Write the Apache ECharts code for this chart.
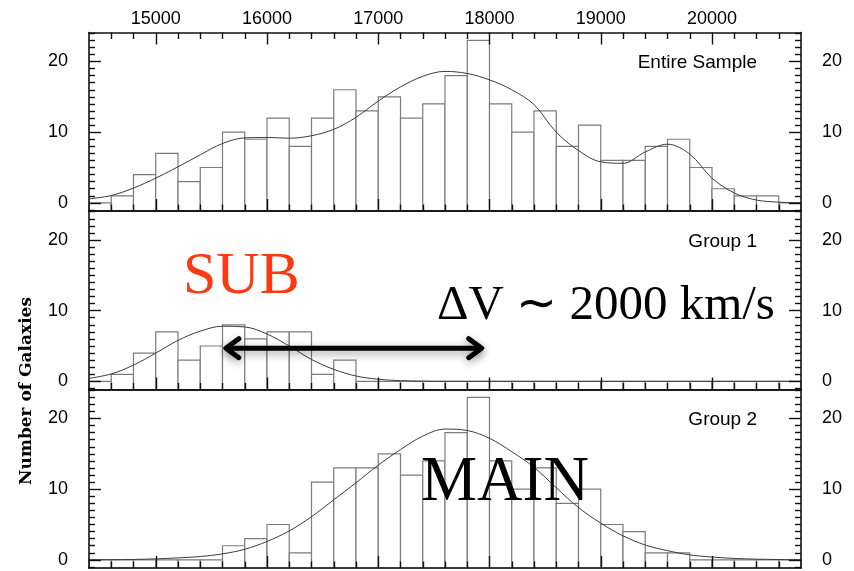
<!DOCTYPE html>
<html>
<head>
<meta charset="utf-8">
<script src="https://cdn.jsdelivr.net/npm/echarts@6/dist/echarts.min.js"></script>
<style>
  html, body { margin: 0; padding: 0; background: #fff; }
  #chart { width: 854px; height: 571px; }
</style>
</head>
<body>
<div id="chart"></div>
<script>
// Velocity histograms (200 km/s bins) with fitted density curves
const binStarts = [14400, 14600, 14800, 15000, 15200, 15400, 15600, 15800, 16000, 16200, 16400, 16600,
  16800, 17000, 17200, 17400, 17600, 17800, 18000, 18200, 18400, 18600, 18800, 19000,
  19200, 19400, 19600, 19800, 20000, 20200, 20400, 20600];
const binWidth = 200;

const entireCounts = [0, 1, 4, 7, 3, 5, 10, 9, 12, 8, 12, 16, 13, 15, 12, 14, 18, 23, 14, 10, 13, 8, 11, 6,
  6, 8, 9, 5, 2, 1, 1, 0];
const group1Counts = [0, 1, 4, 7, 3, 5, 8, 6, 7, 7, 1, 3, 0, 0, 0, 0, 0, 0, 0, 0, 0, 0, 0, 0,
  0, 0, 0, 0, 0, 0, 0, 0];
const group2Counts = [0, 0, 0, 0, 0, 0, 2, 3, 5, 1, 11, 13, 13, 15, 12, 14, 18, 23, 14, 10, 13, 8, 10, 5,
  4, 1, 1, 0, 0, 0, 0, 0];

const curveVelocities = [14400, 14600, 14800, 15000, 15200, 15400, 15600, 15800, 16000, 16200, 16400,
  16600, 16800, 17000, 17200, 17400, 17600, 17800, 18000, 18200, 18400, 18600, 18800, 19000, 19200,
  19400, 19600, 19800, 20000, 20200, 20400, 20600, 20800];
const entireFit = [0.57, 1.04, 2.1, 3.5, 5.1, 6.8, 8.4, 9.2, 9.25, 9.15, 9.5, 10.4, 12.1, 14.4, 16.4,
  17.9, 18.6, 18.3, 17.4, 16.0, 13.9, 10.0, 7.4, 5.8, 5.6, 7.2, 8.3, 6.9, 3.5, 1.4, 0.4, 0.1, 0.02];
const group1Fit = [0.43, 1.05, 2.3, 4.0, 5.8, 7.1, 7.8, 7.7, 6.7, 5.0, 3.1, 1.7, 0.76, 0.3, 0.1, 0.03,
  0, 0, 0, 0, 0, 0, 0, 0, 0, 0, 0, 0, 0, 0, 0, 0, 0];
const group2Fit = [0.02, 0.03, 0.06, 0.14, 0.28, 0.47, 0.85, 1.5, 2.6, 4.1, 6.1, 8.5, 10.9, 13.4, 15.6,
  17.5, 18.5, 18.3, 17.2, 15.3, 13.1, 10.2, 7.4, 5.2, 3.4, 2.1, 1.3, 0.7, 0.4, 0.2, 0.1, 0.05, 0.02];

const velocityTicks = [15000, 16000, 17000, 18000, 19000, 20000];
const velocityMinorTicks = [14600, 14800, 15200, 15400, 15600, 15800, 16200, 16400, 16600, 16800,
  17200, 17400, 17600, 17800, 18200, 18400, 18600, 18800, 19200, 19400, 19600, 19800, 20200, 20400, 20600];
const countTicks = [0, 10, 20];
const countMinorTicks = [-1, 1, 2, 3, 4, 5, 6, 7, 8, 9, 11, 12, 13, 14, 15, 16, 17, 18, 19, 21, 22, 23, 24];

const panelNames = ['Entire Sample', 'Group 1', 'Group 2'];
const yName = 'Number of Galaxies';
const arrowSpan = [15630, 17930];
const arrowLevel = 4.7;

const X_MIN = 14400, X_MAX = 20800, Y_MIN = -1.15, Y_MAX = 24.1;
const PLOT_LEFT = 89, PLOT_WIDTH = 712, PANEL_H = 178.5;
const panelTops = [32.5, 211, 389.5];
const INK = '#111';
const SANS = "'Liberation Sans', Arial, Helvetica, sans-serif";
const SERIF = "'Liberation Serif', 'Times New Roman', serif";

const grids = [], xAxes = [], yAxes = [], series = [];

function xAxis(grid, pos, opts) {
  xAxes.push(Object.assign({
    gridIndex: grid, type: 'value', min: X_MIN, max: X_MAX, position: pos, z: 6,
    axisLine: { show: false, onZero: false },
    axisTick: { show: false },
    axisLabel: { show: false },
    splitLine: { show: false }
  }, opts));
  return xAxes.length - 1;
}
function yAxis(grid, pos, opts) {
  yAxes.push(Object.assign({
    gridIndex: grid, type: 'value', min: Y_MIN, max: Y_MAX, position: pos, z: 6,
    axisLine: { show: false, onZero: false },
    axisTick: { show: false },
    axisLabel: { show: false },
    splitLine: { show: false }
  }, opts));
  return yAxes.length - 1;
}
const frameLine = { show: true, onZero: false, lineStyle: { color: INK, width: 1.6 } };
const tick = (len, values) => ({ show: true, inside: true, length: len, customValues: values,
  lineStyle: { color: INK, width: 1.4 } });
const tickLabel = (values, margin) => ({ show: true, customValues: values, margin: margin,
  color: '#000', fontSize: 18, fontFamily: SANS, formatter: v => String(v) });

function histogram(counts, xi, yi) {
  return {
    type: 'custom', xAxisIndex: xi, yAxisIndex: yi, silent: true, z: 2,
    encode: { x: 0, y: 1 },
    data: binStarts.map((s, i) => [s, counts[i]]),
    renderItem(params, api) {
      const s = api.value(0), v = api.value(1);
      const a = api.coord([s, v]);
      const b = api.coord([s + binWidth, Y_MIN]);
      return {
        type: 'rect',
        shape: { x: a[0], y: a[1], width: b[0] - a[0], height: b[1] - a[1] },
        style: { fill: '#fff', stroke: '#7c7c7c', lineWidth: 1.2 }
      };
    }
  };
}
function fitCurve(values, xi, yi) {
  return {
    type: 'line', xAxisIndex: xi, yAxisIndex: yi, silent: true, z: 3,
    smooth: 0.35, showSymbol: false, symbol: 'none',
    lineStyle: { color: '#3c3c3c', width: 1 },
    data: curveVelocities.map((x, i) => [x, values[i]])
  };
}

const countsByPanel = [entireCounts, group1Counts, group2Counts];
const fitsByPanel = [entireFit, group1Fit, group2Fit];

panelTops.forEach((top, p) => {
  grids.push({ left: PLOT_LEFT, width: PLOT_WIDTH, top: top, height: PANEL_H, show: false });
  const xb = xAxis(p, 'bottom', { axisLine: frameLine, axisTick: tick(12, velocityTicks) });
  xAxis(p, 'bottom', { axisTick: tick(6.5, velocityMinorTicks) });
  if (p === 0) {
    xAxis(p, 'top', { axisLine: frameLine, axisTick: tick(12, velocityTicks),
      axisLabel: tickLabel(velocityTicks, 4) });
    xAxis(p, 'top', { axisTick: tick(6.5, velocityMinorTicks) });
  } else {
    xAxis(p, 'top', { axisLine: frameLine });
  }
  const yl = yAxis(p, 'left', { axisLine: frameLine, axisTick: tick(12, countTicks),
    axisLabel: tickLabel(countTicks, 21) });
  yAxis(p, 'left', { axisTick: tick(6, countMinorTicks) });
  yAxis(p, 'right', { axisLine: frameLine, axisTick: tick(12, countTicks),
    axisLabel: tickLabel(countTicks, 21) });
  yAxis(p, 'right', { axisTick: tick(6, countMinorTicks) });

  series.push(histogram(countsByPanel[p], xb, yl));
  series.push(fitCurve(fitsByPanel[p], xb, yl));
  if (p === 1) {
    // double-headed arrow marking the velocity offset between the groups
    series.push({
      type: 'custom', xAxisIndex: xb, yAxisIndex: yl, silent: true, z: 8,
      encode: { x: [0, 1], y: 2 },
      data: [[arrowSpan[0], arrowSpan[1], arrowLevel]],
      renderItem(params, api) {
        const l = api.coord([api.value(0), api.value(2)]);
        const r = api.coord([api.value(1), api.value(2)]);
        const st = { stroke: '#000', lineWidth: 5, lineCap: 'round', lineJoin: 'round', fill: null,
          shadowBlur: 8, shadowColor: 'rgba(0,0,0,0.4)', shadowOffsetY: 3 };
        const hx = 13, hy = 9.5;
        return {
          type: 'group',
          children: [
            { type: 'polyline', shape: { points: [[l[0] + 2, l[1]], [r[0] - 2, r[1]]] }, style: st },
            { type: 'polyline', shape: { points: [[l[0] + hx, l[1] - hy], [l[0], l[1]], [l[0] + hx, l[1] + hy]] }, style: st },
            { type: 'polyline', shape: { points: [[r[0] - hx, r[1] - hy], [r[0], r[1]], [r[0] - hx, r[1] + hy]] }, style: st }
          ]
        };
      }
    });
  }
});

const graphics = [];
panelTops.forEach((top, p) => {
  graphics.push({
    type: 'text', right: 854 - 757, top: top + 21, z: 10, silent: true,
    style: { text: panelNames[p], font: '19px ' + SANS, fill: '#000' }
  });
});
graphics.push({
  type: 'text', x: 27, y: 391, rotation: Math.PI / 2, z: 10, silent: true,
  style: { text: yName, font: "bold 17px 'DejaVu Serif', 'Liberation Serif', serif", fill: '#000',
    align: 'center', verticalAlign: 'middle' }
});
graphics.push({
  type: 'text', x: 183, y: 247, z: 10, silent: true,
  style: { text: 'SUB', font: '60px ' + SERIF, fill: '#fb3a12' }
});
graphics.push({
  type: 'text', x: 437, y: 282, z: 10, silent: true,
  style: { text: 'ΔV ∼ 2000 km/s', font: '49px ' + SERIF, fill: '#000' }
});
graphics.push({
  type: 'text', x: 421, y: 452, z: 10, silent: true,
  style: { text: 'MAIN', font: '63px ' + SERIF, fill: '#000' }
});

const chart = echarts.init(document.getElementById('chart'), null, { renderer: 'canvas' });
chart.setOption({
  animation: false,
  backgroundColor: '#fff',
  grid: grids,
  xAxis: xAxes,
  yAxis: yAxes,
  series: series,
  graphic: graphics
});
</script>
</body>
</html>
